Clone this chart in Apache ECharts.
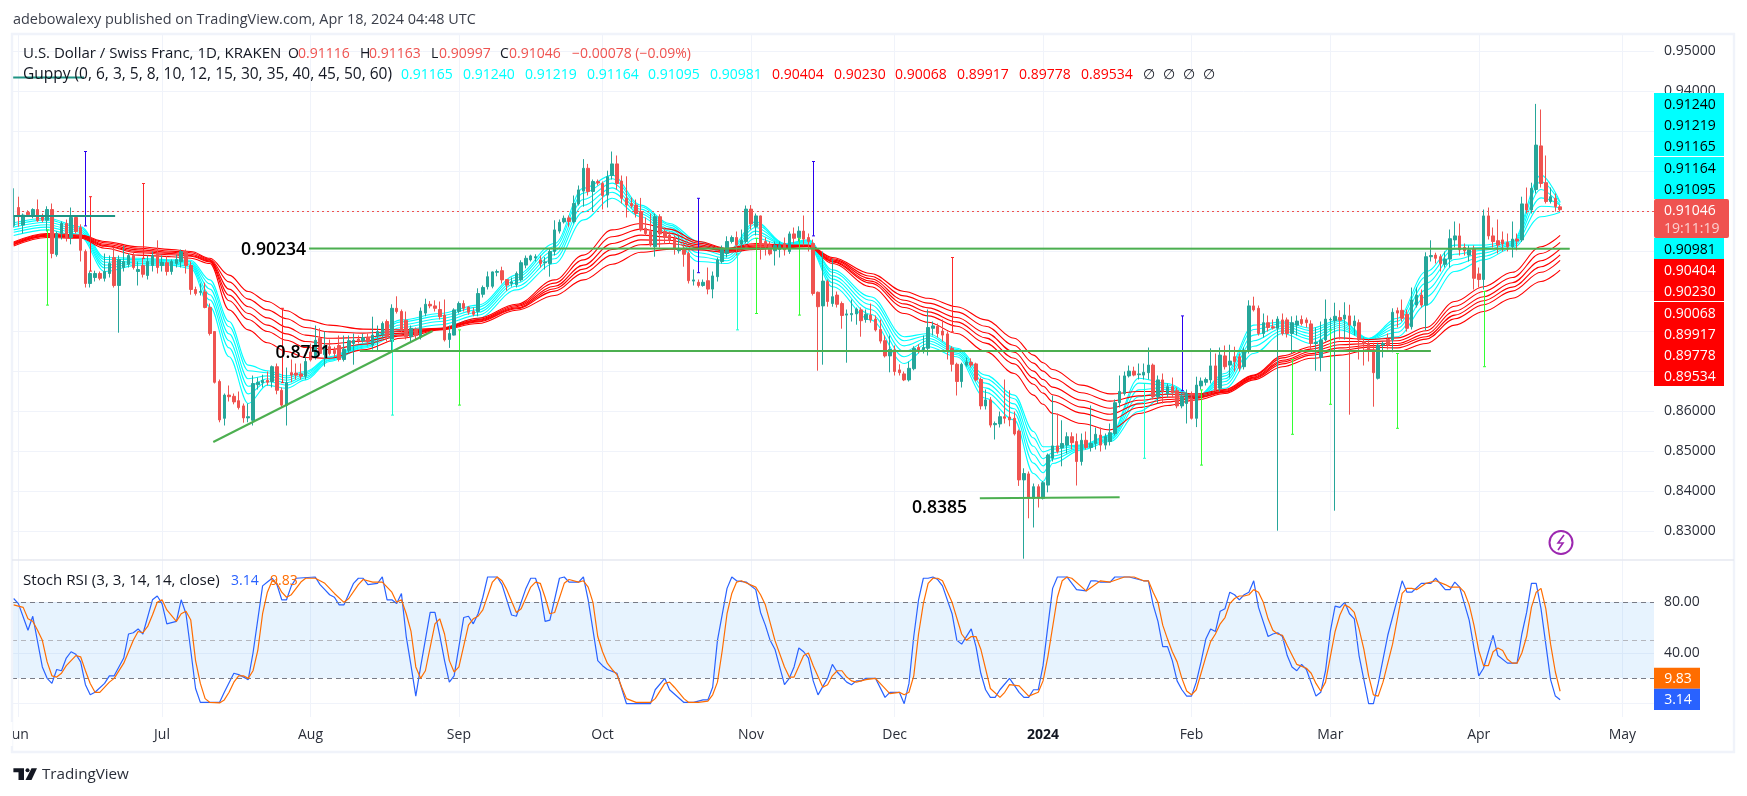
<!DOCTYPE html>
<html>
<head>
<meta charset="utf-8">
<title>USD/CHF daily with Guppy and Stoch RSI</title>
<style>
html,body{margin:0;padding:0;background:#fff}
#chart{width:1747px;height:796px}
</style>
<script src="https://cdn.jsdelivr.net/npm/echarts@6/dist/echarts.min.js"></script>
</head>
<body>
<div id="chart"></div>
<script>
// Calendar axis: days counted from 1 Jun 2023. Prices are quoted in 1/10000 of a franc.
const monthStarts = [0,30,61,92,122,153,183,214,245,274,305,335];
const monthLabels = ['Jun','Jul','Aug','Sep','Oct','Nov','Dec','2024','Feb','Mar','Apr','May'];
const priceTicks = [0.83,0.84,0.85,0.86,0.87,0.88,0.89,0.90,0.91,0.92,0.93,0.94,0.95];
const rsiTicks = [0,40,80];

// Daily bars from 31 May 2023 (day -1): open, high, low, close
const firstBarDay = -1;
const bars = [
[9065,9158,9060,9090],[9110,9137,9062,9087],[9066,9095,9045,9091],[9098,9103,9087,9092],[9090,9108,9083,9105],
[9105,9130,9074,9077],[9087,9095,9073,9078],[9078,9113,9050,9105],[9105,9120,8983,8995],[8992,9050,8987,9045],
[9045,9075,9030,9070],[9070,9080,9025,9035],[9035,9110,9018,9085],[9085,9090,9045,9050],[9060,9068,8975,9003],
[9000,9005,8910,8920],[8920,8950,8910,8945],[8935,8952,8925,8945],[8945,8950,8928,8933],[8933,8995,8925,8950],
[8945,8990,8935,8970],[8985,9010,8910,8915],[8915,8990,8797,8980],[8960,9015,8950,8975],[8968,8995,8960,8990],
[8990,8998,8955,8960],[8950,8975,8915,8955],[8965,8983,8935,8943],[8940,8990,8930,8975],[8965,9000,8950,8990],
[8995,9028,8945,8960],[8965,8990,8950,8973],[8972,8988,8940,8950],[8950,8980,8942,8975],[8970,8992,8960,8980],
[8975,9005,8960,9000],[8998,9005,8945,8965],[8965,8975,8892,8905],[8905,8912,8890,8895],[8898,8920,8890,8900],
[8899,8922,8858,8860],[8860,8870,8790,8795],[8800,8800,8670,8673],[8675,8680,8573,8579],[8583,8645,8565,8641],
[8641,8665,8625,8637],[8638,8645,8618,8624],[8627,8650,8605,8610],[8614,8620,8572,8584],[8584,8620,8573,8587],
[8578,8690,8565,8670],[8667,8685,8655,8673],[8672,8692,8660,8678],[8678,8700,8665,8673],[8675,8715,8660,8712],
[8712,8720,8643,8653],[8653,8660,8610,8616],[8615,8710,8565,8672],[8697,8730,8673,8691],[8696,8720,8680,8691],
[8694,8720,8680,8688],[8688,8735,8680,8725],[8749,8770,8725,8729],[8735,8815,8730,8778],[8783,8808,8740,8745],
[8742,8800,8712,8764],[8762,8780,8740,8745],[8753,8762,8735,8745],[8765,8790,8725,8730],[8730,8790,8725,8756],
[8753,8790,8745,8777],[8770,8795,8717,8778],[8781,8790,8770,8777],[8777,8795,8772,8785],[8785,8795,8765,8774],
[8766,8837,8755,8791],[8789,8815,8752,8800],[8791,8825,8785,8820],[8825,8830,8775,8787],[8775,8868,8750,8858],
[8858,8888,8845,8850],[8850,8855,8798,8804],[8828,8850,8780,8787],[8787,8815,8775,8808],[8805,8810,8780,8790],
[8785,8860,8780,8851],[8846,8882,8838,8868],[8868,8876,8858,8864],[8864,8878,8850,8858],[8855,8875,8830,8837],
[8841,8880,8775,8779],[8780,8815,8759,8795],[8791,8858,8790,8854],[8850,8875,8845,8870],[8870,8878,8850,8858],
[8861,8863,8842,8848],[8850,8860,8838,8843],[8850,8908,8838,8895],[8893,8915,8885,8910],[8912,8950,8905,8937],
[8913,8950,8908,8949],[8948,8955,8938,8950],[8952,8962,8920,8929],[8930,8930,8902,8916],[8920,8935,8912,8924],
[8917,8950,8910,8945],[8929,8978,8925,8972],[8966,8990,8958,8983],[8979,8992,8975,8989],[8984,8993,8975,8987],
[8979,8990,8960,8970],[8972,8986,8955,8974],[8970,9008,8937,9000],[9000,9078,8990,9054],[9051,9080,9045,9073],
[9074,9090,9070,9083],[9084,9090,9062,9075],[9075,9140,9070,9120],[9119,9165,9115,9154],[9151,9231,9112,9208],
[9208,9219,9140,9150],[9150,9180,9100,9175],[9175,9180,9165,9171],[9170,9175,9105,9140],[9141,9202,9110,9187],
[9190,9250,9180,9219],[9219,9240,9155,9170],[9176,9190,9120,9133],[9133,9188,9085,9116],[9120,9135,9108,9114],
[9116,9130,9085,9095],[9100,9134,9050,9054],[9058,9085,9040,9045],[9050,9095,9012,9016],[9012,9095,8987,9087],
[9087,9093,9010,9044],[9050,9060,9020,9035],[9041,9050,9020,9029],[9033,9040,8992,9005],[9002,9040,8995,9008],
[9008,9025,8962,8993],[8995,9000,8920,8927],[8926,8955,8915,8929],[8923,8930,8910,8915],[8915,8930,8912,8923],
[8927,8960,8893,8906],[8906,8950,8883,8939],[8937,8985,8925,8979],[8975,9015,8970,9008],[8995,9038,8985,9025],
[9025,9040,9020,9035],[9035,9050,8990,9016],[9018,9055,9010,9028],[9025,9115,9020,9106],[9106,9116,9055,9069],
[9062,9095,9040,9089],[9089,9090,8980,9016],[9025,9035,8990,9012],[9016,9025,8990,8994],[9002,9025,8965,9015],
[9005,9025,8985,9015],[9020,9035,8990,9004],[9000,9050,8994,9044],[9044,9060,9020,9033],[9035,9063,9025,9051],
[9051,9090,9015,9031],[9035,9045,9000,9025],[9020,9030,8890,8895],[8898,8900,8702,8862],[8864,9000,8717,8926],
[8925,8930,8862,8875],[8870,8982,8862,8887],[8891,8900,8860,8868],[8870,8875,8807,8840],[8841,8855,8722,8844],
[8842,8880,8825,8845],[8844,8860,8817,8856],[8854,8860,8787,8827],[8830,8855,8822,8843],[8841,8870,8822,8829],
[8831,8840,8800,8804],[8805,8830,8770,8776],[8777,8790,8735,8739],[8739,8790,8698,8755],[8754,8765,8690,8700],
[8704,8718,8690,8697],[8694,8700,8676,8679],[8679,8725,8675,8708],[8707,8763,8703,8758],[8760,8768,8745,8751],
[8755,8790,8745,8760],[8758,8855,8740,8810],[8808,8825,8790,8814],[8813,8820,8785,8795],[8801,8830,8775,8791],
[8794,8800,8730,8754],[8758,8763,8700,8718],[8718,8722,8640,8675],[8675,8722,8660,8718],[8716,8735,8712,8724],
[8723,8733,8710,8716],[8719,8722,8675,8679],[8680,8685,8605,8614],[8614,8655,8605,8629],[8629,8636,8560,8566],
[8567,8575,8530,8570],[8569,8600,8560,8587],[8587,8680,8570,8583],[8586,8653,8563,8579],[8583,8600,8540,8544],
[8551,8555,8414,8429],[8429,8458,8232,8445],[8444,8450,8333,8383],[8383,8420,8310,8412],[8412,8418,8360,8383],
[8383,8426,8380,8422],[8416,8495,8398,8491],[8483,8640,8475,8514],[8514,8595,8495,8500],[8509,8578,8463,8520],
[8516,8548,8495,8537],[8537,8548,8505,8522],[8525,8545,8415,8475],[8475,8545,8465,8528],[8528,8550,8505,8510],
[8510,8615,8500,8520],[8520,8560,8505,8543],[8541,8560,8500,8516],[8516,8545,8505,8537],[8525,8570,8515,8547],
[8545,8630,8540,8622],[8622,8690,8610,8650],[8645,8700,8640,8689],[8689,8715,8685,8701],[8701,8712,8688,8691],
[8692,8720,8680,8694],[8691,8720,8680,8698],[8697,8760,8680,8716],[8716,8720,8630,8637],[8637,8690,8620,8679],
[8679,8695,8620,8650],[8645,8670,8635,8662],[8662,8685,8635,8647],[8652,8660,8608,8614],[8614,8648,8608,8637],
[8620,8655,8570,8645],[8633,8650,8580,8583],[8583,8687,8561,8666],[8664,8685,8655,8676],[8673,8685,8665,8680],
[8679,8758,8670,8714],[8714,8745,8650,8654],[8658,8760,8650,8741],[8739,8765,8705,8712],[8716,8767,8685,8726],
[8737,8762,8700,8725],[8737,8745,8700,8708],[8712,8760,8705,8750],[8750,8878,8745,8864],[8864,8887,8850,8854],
[8858,8865,8790,8795],[8795,8845,8785,8822],[8822,8840,8800,8810],[8812,8830,8805,8809],[8808,8838,8302,8831],
[8829,8845,8790,8795],[8829,8835,8785,8795],[8795,8838,8745,8822],[8816,8840,8790,8826],[8830,8840,8815,8820],
[8829,8835,8810,8822],[8819,8828,8755,8770],[8770,8810,8702,8773],[8735,8825,8700,8779],[8779,8880,8775,8831],
[8829,8835,8720,8830],[8827,8872,8352,8838],[8835,8853,8780,8828],[8831,8873,8780,8841],[8839,8867,8592,8816],
[8814,8840,8790,8826],[8822,8830,8730,8779],[8775,8785,8715,8770],[8770,8780,8725,8754],[8754,8772,8612,8697],
[8683,8772,8680,8766],[8766,8775,8735,8770],[8780,8795,8755,8766],[8779,8858,8748,8848],[8852,8860,8810,8846],
[8853,8880,8825,8833],[8843,8855,8800,8808],[8812,8910,8805,8879],[8866,8910,8860,8891],[8891,8905,8860,8866],
[8866,8998,8803,8987],[8987,9028,8975,8990],[8991,8997,8970,8983],[8987,8993,8950,8970],[8968,9000,8960,8981],
[8981,9055,8960,9032],[9029,9075,9010,9039],[9039,9070,8990,9004],[9010,9020,8990,9002],[8991,9015,8975,9004],
[9008,9015,8905,8933],[8944,8960,8910,8930],[8930,9105,8905,9089],[9089,9110,9030,9039],[9039,9060,9010,9025],
[9027,9080,8995,9016],[9029,9050,9000,9019],[9023,9045,9000,9012],[9012,9075,8985,9031],[9031,9045,9003,9026],
[9029,9137,9024,9119],[9119,9160,9095,9104],[9104,9172,9095,9158],[9155,9369,9145,9266],[9264,9355,9160,9170],
[9172,9240,9120,9125],[9125,9160,9120,9137],[9133,9145,9100,9112],[9111.6,9116.3,9099.7,9104.6]
];

// Isolated vertical strokes: day, top price, bottom price
const blueStrokes = [[14,9250,9064],[142,9133,8947],[166,9225,9039],[243,8839,8652]];
const redStrokes = [[15,9137,8951],[26,9170,8983],[55,8858,8672],[195,8985,8799]];
const limeStrokes = [[6,9054,8866],[92,8804,8616],[154,9033,8845],[163,9033,8841],[247,8654,8466],[266,8730,8543],[274,8804,8618],[288,8745,8558],[306,8900,8712]];
const aquaStrokes = [[78,8780,8591],[150,8995,8804],[235,8670,8483]];

// Guppy ribbons, sampled on these days
const guppyDays = [-1,6,13,18,25,32,36,40,44,48,52,56,60,65,72,80,88,96,104,112,118,124,130,136,142,148,154,160,165,170,178,185,190,196,202,208,212,214,216,222,228,234,240,246,252,258,264,270,276,282,288,294,300,306,312,318,322];
const guppyFast1 = [9072,9083,9062,8985,8983,8979,8978,8929,8825,8716,8702,8689,8700,8737,8770,8829,8845,8866,8941,9020,9158,9191,9116,9070,9025,9000,9074,9020,9029,8954,8887,8787,8795,8758,8691,8641,8550,8512,8512,8516,8541,8683,8670,8637,8695,8816,8824,8808,8829,8783,8833,8950,9016,9016,9025,9191,9124];
const guppyFast2 = [9067,9079,9058,8980,8980,8977,8975,8919,8812,8702,8697,8684,8697,8735,8768,8824,8839,8861,8935,9012,9146,9182,9112,9066,9017,8995,9068,9019,9027,8948,8878,8777,8790,8755,8682,8632,8534,8499,8506,8514,8539,8671,8666,8636,8689,8805,8820,8802,8825,8782,8826,8937,9006,9010,9022,9175,9121.9];
const guppyFast3 = [9061,9073,9053,8973,8977,8974,8971,8906,8794,8682,8689,8678,8693,8733,8766,8817,8832,8854,8928,9002,9130,9171,9106,9061,9007,8989,9060,9019,9024,8939,8867,8764,8783,8751,8671,8619,8513,8482,8497,8512,8535,8654,8661,8636,8682,8791,8814,8795,8820,8782,8817,8921,8993,9003,9019,9155,9116.5];
const guppyFast4 = [9054,9067,9048,8966,8974,8972,8967,8892,8777,8663,8682,8672,8688,8730,8763,8810,8825,8848,8921,8992,9115,9159,9100,9056,8997,8983,9051,9018,9022,8931,8855,8750,8777,8746,8659,8607,8492,8464,8489,8509,8532,8637,8656,8635,8675,8777,8808,8787,8815,8781,8808,8904,8980,8996,9016,9134,9116.4];
const guppyFast5 = [9048,9061,9043,8959,8970,8969,8963,8879,8759,8644,8675,8666,8684,8728,8761,8803,8817,8841,8913,8982,9099,9148,9094,9051,8987,8977,9043,9017,9019,8922,8843,8737,8770,8742,8648,8595,8471,8447,8481,8507,8529,8621,8651,8634,8667,8763,8802,8780,8810,8780,8798,8887,8967,8988,9012,9113,9109.5];
const guppyFast6 = [9040,9054,9037,8950,8966,8966,8958,8862,8737,8620,8666,8658,8679,8725,8758,8795,8808,8833,8904,8970,9079,9133,9087,9045,8975,8970,9033,9016,9016,8912,8829,8720,8762,8737,8633,8579,8445,8425,8470,8504,8525,8600,8645,8633,8658,8745,8795,8770,8804,8779,8787,8866,8950,8979,9008,9087,9098.1];
const guppySlow1 = [9024,9045,9041,9025,9012,9005,9000,8983,8941,8900,8875,8852,8829,8816,8806,8804,8808,8833,8868,8929,8991,9054,9070,9056,9025,9008,9020,9016,9016,8985,8945,8900,8883,8862,8829,8783,8741,8722,8705,8666,8644,8650,8650,8644,8655,8691,8739,8762,8784,8780,8784,8810,8875,8912,8948,9012,9040.4];
const guppySlow2 = [9022,9043,9039,9022,9008,9001,8997,8980,8924,8881,8854,8832,8810,8799,8796,8800,8807,8830,8865,8921,8979,9037,9056,9046,9021,9006,9017,9015,9015,8982,8938,8889,8871,8849,8813,8765,8721,8701,8683,8647,8626,8639,8643,8641,8653,8689,8734,8756,8775,8775,8777,8802,8863,8900,8935,8995,9023];
const guppySlow3 = [9020,9041,9038,9018,9004,8998,8993,8978,8906,8862,8834,8811,8791,8783,8785,8796,8806,8828,8862,8913,8966,9020,9041,9036,9017,9004,9014,9014,9014,8979,8932,8878,8859,8835,8797,8748,8701,8680,8661,8628,8608,8628,8636,8638,8651,8686,8728,8750,8767,8770,8770,8794,8851,8887,8922,8977,9006.8];
const guppySlow4 = [9018,9039,9036,9015,9000,8995,8990,8976,8891,8845,8816,8794,8775,8769,8776,8792,8806,8826,8859,8907,8956,9005,9029,9028,9013,9002,9011,9013,9014,8976,8926,8869,8849,8824,8784,8733,8684,8663,8642,8611,8593,8619,8630,8635,8649,8684,8724,8745,8759,8765,8765,8787,8841,8877,8911,8962,8991.7];
const guppySlow5 = [9017,9038,9035,9013,8997,8992,8988,8974,8877,8830,8800,8778,8760,8755,8768,8789,8805,8824,8857,8901,8946,8991,9017,9020,9010,9001,9009,9012,9013,8974,8921,8860,8839,8813,8771,8719,8668,8646,8625,8596,8578,8610,8624,8633,8648,8682,8719,8741,8753,8761,8759,8781,8832,8867,8901,8948,8977.8];
const guppySlow6 = [9014,9035,9033,9008,8991,8987,8983,8970,8854,8804,8772,8750,8735,8733,8754,8783,8804,8820,8853,8890,8929,8968,8998,9006,9004,8998,9005,9010,9012,8970,8912,8845,8823,8795,8750,8695,8641,8618,8595,8570,8554,8595,8615,8629,8645,8679,8712,8733,8741,8754,8750,8770,8816,8850,8883,8925,8953.4];

// Stoch RSI turning points: day, value
const stochK = [[-1,83],[0,79],[2,58],[3,69],[5,29],[6,20],[7,16],[8,27],[9,26],[10,36],[11,41],[12,39],[13,33],[14,15],[15,7],[16,9],[18,16],[19,22],[20,22],[22,36],[23,55],[24,56],[25,59],[26,55],[28,82],[29,85],[30,79],[31,63],[32,64],[33,65],[34,82],[35,71],[36,42],[37,12],[38,1],[42,1],[43,9],[45,24],[46,23],[48,19],[49,40],[51,93],[52,96],[53,99],[54,94],[55,82],[56,82],[57,93],[58,99],[62,100],[63,94],[64,90],[65,86],[66,84],[67,78],[68,78],[70,95],[71,99],[72,99],[73,94],[75,95],[76,100],[77,82],[78,82],[79,79],[80,87],[81,53],[82,30],[83,6],[84,29],[86,72],[87,72],[88,54],[89,34],[90,17],[91,22],[93,68],[94,69],[95,63],[96,71],[97,84],[98,100],[100,100],[101,94],[103,70],[104,69],[106,91],[107,99],[108,99],[109,88],[110,65],[111,66],[113,99],[114,100],[115,96],[117,96],[118,100],[119,82],[120,58],[121,34],[122,30],[123,27],[125,24],[127,0],[132,0],[133,11],[135,20],[136,11],[139,1],[141,1],[143,3],[144,3],[145,13],[146,50],[148,91],[149,100],[150,97],[152,96],[154,90],[155,72],[156,62],[157,50],[158,43],[160,15],[161,20],[162,29],[163,44],[164,41],[165,36],[166,18],[167,7],[169,20],[170,31],[171,25],[173,17],[174,15],[175,18],[176,18],[177,20],[179,20],[181,5],[182,9],[184,9],[185,0],[186,16],[187,53],[188,82],[189,99],[190,99],[191,100],[192,98],[193,93],[195,71],[196,50],[197,47],[199,59],[200,45],[201,24],[202,11],[203,5],[204,5],[205,11],[207,20],[209,9],[210,5],[211,5],[212,11],[213,11],[214,30],[215,61],[216,91],[217,100],[219,100],[221,90],[223,89],[224,97],[225,97],[226,96],[228,96],[229,100],[232,100],[233,99],[235,97],[236,97],[237,78],[238,65],[239,45],[240,45],[241,34],[242,18],[243,11],[244,6],[245,6],[246,17],[247,33],[248,51],[249,59],[250,57],[251,73],[252,75],[253,88],[254,86],[255,82],[256,86],[257,88],[258,97],[259,76],[261,53],[262,55],[263,56],[264,53],[265,38],[266,29],[267,26],[268,31],[269,27],[271,6],[272,9],[273,26],[274,57],[275,77],[276,76],[277,80],[278,71],[279,67],[280,38],[282,0],[283,0],[284,16],[286,54],[289,97],[290,88],[291,88],[293,95],[295,95],[296,99],[298,90],[299,90],[300,96],[301,92],[303,66],[305,22],[306,28],[308,54],[309,38],[311,32],[313,32],[314,55],[315,72],[316,95],[317,95],[318,75],[319,47],[320,19],[321,6],[322,3.14]];
const stochD = [[-1,78],[1,76],[2,67],[3,65],[4,58],[5,50],[6,33],[7,22],[8,21],[9,24],[10,30],[11,34],[12,38],[13,37],[14,26],[15,16],[16,9],[17,9],[19,17],[20,20],[22,32],[24,50],[25,57],[26,56],[27,61],[28,70],[29,80],[30,82],[31,74],[33,65],[34,71],[35,73],[36,66],[37,34],[38,16],[39,4],[40,1],[42,0.6],[43,3],[44,9],[45,17],[46,22],[47,22],[48,20],[49,26],[50,42],[51,71],[52,88],[53,97],[54,95],[55,88],[56,84],[57,86],[59,96],[60,99],[62,99],[64,95],[66,87],[68,80],[69,83],[71,94],[72,98],[74,96],[76,96],[78,88],[79,80],[80,82],[81,71],[82,57],[83,29],[84,20],[85,26],[87,63],[88,67],[89,55],[90,34],[91,25],[92,29],[94,62],[95,67],[96,69],[97,74],[99,96],[100,100],[101,97],[102,90],[104,72],[105,75],[107,92],[108,96],[109,95],[110,84],[111,71],[112,72],[114,95],[115,98],[117,96],[118,97],[119,92],[120,80],[121,53],[122,41],[123,32],[124,27],[125,23],[126,13],[127,4],[129,1],[132,1],[133,4],[135,16],[136,17],[137,13],[139,4],[140,1],[142,1],[144,2],[145,7],[146,17],[147,42],[148,71],[149,87],[150,96],[151,97],[154,92],[155,86],[156,78],[158,50],[160,29],[161,21],[162,21],[164,38],[165,40],[166,30],[168,13],[169,15],[170,22],[171,26],[172,26],[173,21],[174,18],[175,17],[177,19],[179,20],[182,8],[184,9],[185,7],[186,9],[187,22],[188,55],[189,79],[190,95],[191,99],[192,99],[193,97],[195,80],[197,55],[198,50],[199,53],[200,53],[201,43],[203,12],[205,5],[206,9],[207,15],[209,14],[211,6],[213,9],[214,18],[215,37],[217,84],[218,97],[219,100],[220,99],[223,89],[226,97],[228,96],[231,100],[233,100],[235,97],[236,97],[237,88],[238,80],[239,62],[240,51],[241,41],[242,33],[243,20],[244,10],[245,7],[246,11],[247,24],[248,37],[249,49],[250,55],[251,63],[252,68],[253,79],[254,83],[255,85],[256,85],[257,86],[258,90],[259,88],[260,80],[261,67],[262,58],[263,55],[264,54],[265,46],[267,31],[269,28],[270,24],[271,16],[272,10],[273,17],[274,37],[275,57],[276,70],[277,78],[278,76],[279,72],[280,59],[281,43],[282,22],[283,7],[284,6],[285,17],[287,47],[289,87],[290,91],[291,91],[292,90],[294,95],[296,97],[298,94],[299,92],[301,92],[302,88],[303,78],[304,62],[305,42],[306,30],[307,30],[308,41],[309,44],[310,42],[311,35],[312,32],[313,32],[314,40],[315,53],[316,76],[317,88],[318,91],[319,75],[320,47],[321,25],[322,9.83]];

// Hand-drawn trend and level lines: [day, price] end points
const tealShortUpper = [[-1.3,9434.75],[13.7,9434.75]];
const tealShortLower = [[-1.3,9088.75],[20.2,9088.75]];
const levelUpper = [[60.7,9007.5],[324,9007]];
const levelMiddle = [[71.3,8751],[295,8751]];
const levelLower = [[200.8,8383],[230,8385.5]];
const trendRising = [[40.7,8523.75],[86.5,8801.25]];
const lastClose = 9104.6;

// Legend and price scale tags
const fastTagPrices = ['0.91165','0.91240','0.91219','0.91164','0.91095','0.90981'];
const slowTagPrices = ['0.90404','0.90230','0.90068','0.89917','0.89778','0.89534'];
const tagFont = '14px "Open Sans", "Noto Sans", sans-serif';
const ink = '#131722';

const toPrice = v => v / 10000;
const linePrice = pts => pts.map(p => [p[0], toPrice(p[1])]);

function ribbon(values, color) {
  return {
    type: 'line', xAxisIndex: 0, yAxisIndex: 0, z: 4, symbol: 'none', silent: true,
    smooth: 0.35, smoothMonotone: 'x',
    lineStyle: { color, width: 1.1 },
    data: guppyDays.map((d, i) => [d, toPrice(values[i])])
  };
}
function drawnLine(points, color, width) {
  return {
    type: 'line', xAxisIndex: 0, yAxisIndex: 0, z: 7, symbol: 'none', silent: true,
    lineStyle: { color, width },
    data: linePrice(points)
  };
}
function strokes(list, color) {
  return {
    type: 'custom', xAxisIndex: 0, yAxisIndex: 0, z: 6, silent: true,
    encode: { x: 0, y: [1, 2] },
    data: list.map(s => [s[0], toPrice(s[1]), toPrice(s[2])]),
    renderItem(params, api) {
      const a = api.coord([api.value(0), api.value(1)]);
      const b = api.coord([api.value(0), api.value(2)]);
      const st = { stroke: color, lineWidth: 1 };
      const x = Math.round(a[0]) + 0.5;
      return {
        type: 'group',
        children: [
          { type: 'line', shape: { x1: x, y1: a[1], x2: x, y2: b[1] }, style: st },
          { type: 'line', shape: { x1: x - 1.5, y1: a[1], x2: x + 1.5, y2: a[1] }, style: st },
          { type: 'line', shape: { x1: x - 1.5, y1: b[1], x2: x + 1.5, y2: b[1] }, style: st }
        ]
      };
    }
  };
}

// Page furniture drawn in screen space
function txt(text, x, y, fill, font, align) {
  return { type: 'text', z: 20, silent: true,
    style: { text, x, y, fill, font: font || tagFont, align: align || 'left', verticalAlign: 'middle' } };
}
function box(x, y, w, h, fill, r) {
  return { type: 'rect', z: 19, silent: true, shape: { x, y, width: w, height: h, r: r || 0 }, style: { fill } };
}
const red = '#ef5350', cyan = '#00ffff', pure = '#ff0000';
const guppyX = [401,463,525,587,648,710,772,834,895,957,1019,1081];
const captionFont = '600 17.6px "Open Sans", sans-serif';
const tagY = 0.7;
const graphics = [
  // frame and pane divider
  box(0, 722, 12.5, 24, '#ffffff'),
  { type: 'rect', z: 18, silent: true, shape: { x: 12, y: 34, width: 1722, height: 718 }, style: { fill: 'none', stroke: '#f0f3fa', lineWidth: 2.4 } },
  { type: 'line', z: 18, silent: true, shape: { x1: 12, y1: 560, x2: 1734, y2: 560 }, style: { stroke: '#e6e8f0', lineWidth: 1.4 } },
  txt('adebowalexy published on TradingView.com, Apr 18, 2024 04:48 UTC', 13, 20, '#3a3e4a', '14.45px "Open Sans", sans-serif'),
  txt('U.S. Dollar / Swiss Franc, 1D, KRAKEN', 23, 54, ink, '15px "Open Sans", sans-serif'),
  txt('O', 288, 54, ink), txt('0.91116', 298, 54, red),
  txt('H', 360, 54, ink), txt('0.91163', 369, 54, red),
  txt('L', 431, 54, ink), txt('0.90997', 439, 54, red),
  txt('C', 500, 54, ink), txt('0.91046', 509, 54, red),
  txt('\u22120.00078 (\u22120.09%)', 572, 54, red),
  txt('Guppy (0, 6, 3, 5, 8, 10, 12, 15, 30, 35, 40, 45, 50, 60)', 23, 75, ink, '15.5px "Open Sans", sans-serif'),
  ...fastTagPrices.map((t, i) => txt(t, guppyX[i], 75, cyan)),
  ...slowTagPrices.map((t, i) => txt(t, guppyX[i + 6], 75, pure)),
  txt('\u2205', 1143, 75, ink), txt('\u2205', 1163, 75, ink), txt('\u2205', 1183, 75, ink), txt('\u2205', 1203, 75, ink),
  txt('Stoch RSI (3, 3, 14, 14, close)', 23, 581, ink, '15.1px "Open Sans", sans-serif'),
  txt('3.14', 231, 581, '#2962ff'), txt('9.83', 270, 581, '#ff6d00'),
  // level captions
  txt('0.90234', 241, 250, '#000000', captionFont),
  txt('0.8751', 275.5, 353, '#000000', captionFont),
  txt('0.8385', 912, 508, '#000000', captionFont),
  // price scale tags
  box(1654, 93, 70, 63, cyan), box(1654, 157, 70, 42, cyan), box(1654, 238, 70, 21, cyan),
  box(1654, 259, 70, 42, pure), box(1654, 302, 70, 84, pure),
  box(1654, 199, 75, 39, red, 2),
  txt('0.91240', 1664, 104 + tagY, '#000'), txt('0.91219', 1664, 125 + tagY, '#000'), txt('0.91165', 1664, 146 + tagY, '#000'),
  txt('0.91164', 1664, 168 + tagY, '#000'), txt('0.91095', 1664, 189 + tagY, '#000'),
  txt('0.91046', 1664, 210 + tagY, '#fff'), txt('19:11:19', 1664, 228 + tagY, 'rgba(255,255,255,0.72)'),
  txt('0.90981', 1664, 249 + tagY, '#000'),
  txt('0.90404', 1664, 270 + tagY, '#fff'), txt('0.90230', 1664, 291 + tagY, '#fff'),
  txt('0.90068', 1664, 313 + tagY, '#fff'), txt('0.89917', 1664, 334 + tagY, '#fff'),
  txt('0.89778', 1664, 355 + tagY, '#fff'), txt('0.89534', 1664, 376 + tagY, '#fff'),
  box(1654, 667.7, 46, 21, '#ff6d00'), box(1654, 688.7, 46, 21.3, '#2962ff'),
  txt('9.83', 1678, 679, '#fff', null, 'center'), txt('3.14', 1678, 700, '#fff', null, 'center'),
  // bolt badge
  { type: 'circle', z: 20, silent: true, shape: { cx: 1561, cy: 542.5, r: 11.5 }, style: { fill: '#fff', stroke: '#9c27b0', lineWidth: 2 } },
  { type: 'polyline', z: 21, silent: true, shape: { points: [[1564,535],[1558,543],[1563,543],[1558,550]] }, style: { fill: 'none', stroke: '#9c27b0', lineWidth: 1.6 } },
  // footer mark
  { type: 'polygon', z: 20, silent: true, shape: { points: [[13.4,768.3],[24,768.3],[24,780],[18.5,780],[18.5,772.3],[13.4,772.3]] }, style: { fill: ink } },
  { type: 'circle', z: 20, silent: true, shape: { cx: 27.5, cy: 770.3, r: 2 }, style: { fill: ink } },
  { type: 'polygon', z: 20, silent: true, shape: { points: [[31.5,768.3],[37,768.3],[31.5,780],[25.5,780]] }, style: { fill: ink } },
  txt('TradingView', 42, 775, '#2a2e39', '15.2px "Open Sans", sans-serif')
];

const gridColor = '#f0f3fa';
const dayMin = -1.337, dayMax = 341.6;
const xBase = {
  type: 'value', min: dayMin, max: dayMax,
  axisLine: { show: false },
  axisTick: { show: false, customValues: monthStarts },
  splitLine: { show: true, lineStyle: { color: gridColor, width: 1 } }
};

const option = {
  animation: false,
  backgroundColor: '#ffffff',
  textStyle: { fontFamily: '"Open Sans", "Noto Sans", sans-serif' },
  grid: [
    { left: 12, top: 34, width: 1642, height: 526 },
    { left: 12, top: 560, width: 1642, height: 157 }
  ],
  xAxis: [
    Object.assign({}, xBase, { gridIndex: 0, axisLabel: { show: false, customValues: monthStarts } }),
    Object.assign({}, xBase, { gridIndex: 1, axisLabel: {
      show: true, customValues: monthStarts, margin: 11, color: '#2a2e39', fontSize: 14,
      fontFamily: '"Open Sans", sans-serif', hideOverlap: false,
      formatter(v) {
        const name = monthLabels[monthStarts.indexOf(v)];
        return name === '2024' ? '{strong|2024}' : name;
      },
      rich: { strong: { fontWeight: 700, fontSize: 14, color: ink, fontFamily: '"Open Sans", sans-serif' } }
    } })
  ],
  yAxis: [
    { type: 'value', gridIndex: 0, position: 'right', min: 0.822875, max: 0.954375, scale: true,
      axisLine: { show: false },
      axisTick: { show: false, customValues: priceTicks },
      splitLine: { show: true, lineStyle: { color: gridColor, width: 1 } },
      axisLabel: { customValues: priceTicks, margin: 10, color: '#2a2e39', fontSize: 14, padding: [2, 0, 0, 0],
        fontFamily: '"Open Sans", sans-serif', formatter: v => v.toFixed(5) } },
    { type: 'value', gridIndex: 1, position: 'right', min: -10.5, max: 113.4, scale: true,
      axisLine: { show: false },
      axisTick: { show: false, customValues: rsiTicks },
      splitLine: { show: true, lineStyle: { color: gridColor, width: 1 } },
      axisLabel: { customValues: rsiTicks, margin: 10, color: '#2a2e39', fontSize: 14, padding: [2, 0, 0, 0],
        fontFamily: '"Open Sans", sans-serif', formatter: v => v.toFixed(2) } }
  ],
  series: [
    ribbon(guppyFast1, cyan), ribbon(guppyFast2, cyan), ribbon(guppyFast3, cyan),
    ribbon(guppyFast4, cyan), ribbon(guppyFast5, cyan), ribbon(guppyFast6, cyan),
    ribbon(guppySlow1, pure), ribbon(guppySlow2, pure), ribbon(guppySlow3, pure),
    ribbon(guppySlow4, pure), ribbon(guppySlow5, pure), ribbon(guppySlow6, pure),
    {
      type: 'candlestick', xAxisIndex: 0, yAxisIndex: 0, z: 5, silent: true, barWidth: 3,
      itemStyle: { color: '#26a69a', color0: '#ef5350', borderColor: '#26a69a', borderColor0: '#ef5350', borderWidth: 1 },
      data: bars.map((b, i) => [firstBarDay + i, toPrice(b[0]), toPrice(b[3]), toPrice(b[2]), toPrice(b[1])]),
      markLine: {
        silent: true, symbol: 'none', label: { show: false }, animation: false,
        lineStyle: { color: '#ef5350', type: [2, 3], width: 1 },
        data: [{ yAxis: toPrice(lastClose) }]
      }
    },
    strokes(blueStrokes, '#2a00f0'),
    strokes(redStrokes, '#ff2a2a'),
    strokes(limeStrokes, '#33ff33'),
    strokes(aquaStrokes, '#19ffd0'),
    drawnLine(tealShortUpper, '#1f9384', 2),
    drawnLine(tealShortLower, '#1f9384', 2),
    drawnLine(levelUpper, '#4caf50', 2),
    drawnLine(levelMiddle, '#4caf50', 2),
    drawnLine(levelLower, '#4caf50', 2),
    drawnLine(trendRising, '#4caf50', 2),
    {
      type: 'line', xAxisIndex: 1, yAxisIndex: 1, z: 4, symbol: 'none', silent: true,
      lineStyle: { color: '#2962ff', width: 1.2 },
      data: stochK,
      markArea: { silent: true, itemStyle: { color: 'rgba(33,150,243,0.11)' }, data: [[{ yAxis: 20 }, { yAxis: 80 }]] },
      markLine: {
        silent: true, symbol: 'none', label: { show: false }, animation: false,
        data: [
          { yAxis: 80, lineStyle: { color: '#787b86', type: [5, 4], width: 1 } },
          { yAxis: 50, lineStyle: { color: '#b4b6bd', type: [5, 4], width: 1 } },
          { yAxis: 20, lineStyle: { color: '#787b86', type: [5, 4], width: 1 } }
        ]
      }
    },
    {
      type: 'line', xAxisIndex: 1, yAxisIndex: 1, z: 5, symbol: 'none', silent: true,
      lineStyle: { color: '#ff6d00', width: 1.2 },
      data: stochD
    }
  ],
  graphic: { elements: graphics }
};

echarts.init(document.getElementById('chart'), null, { renderer: 'canvas' }).setOption(option);
</script>
</body>
</html>
